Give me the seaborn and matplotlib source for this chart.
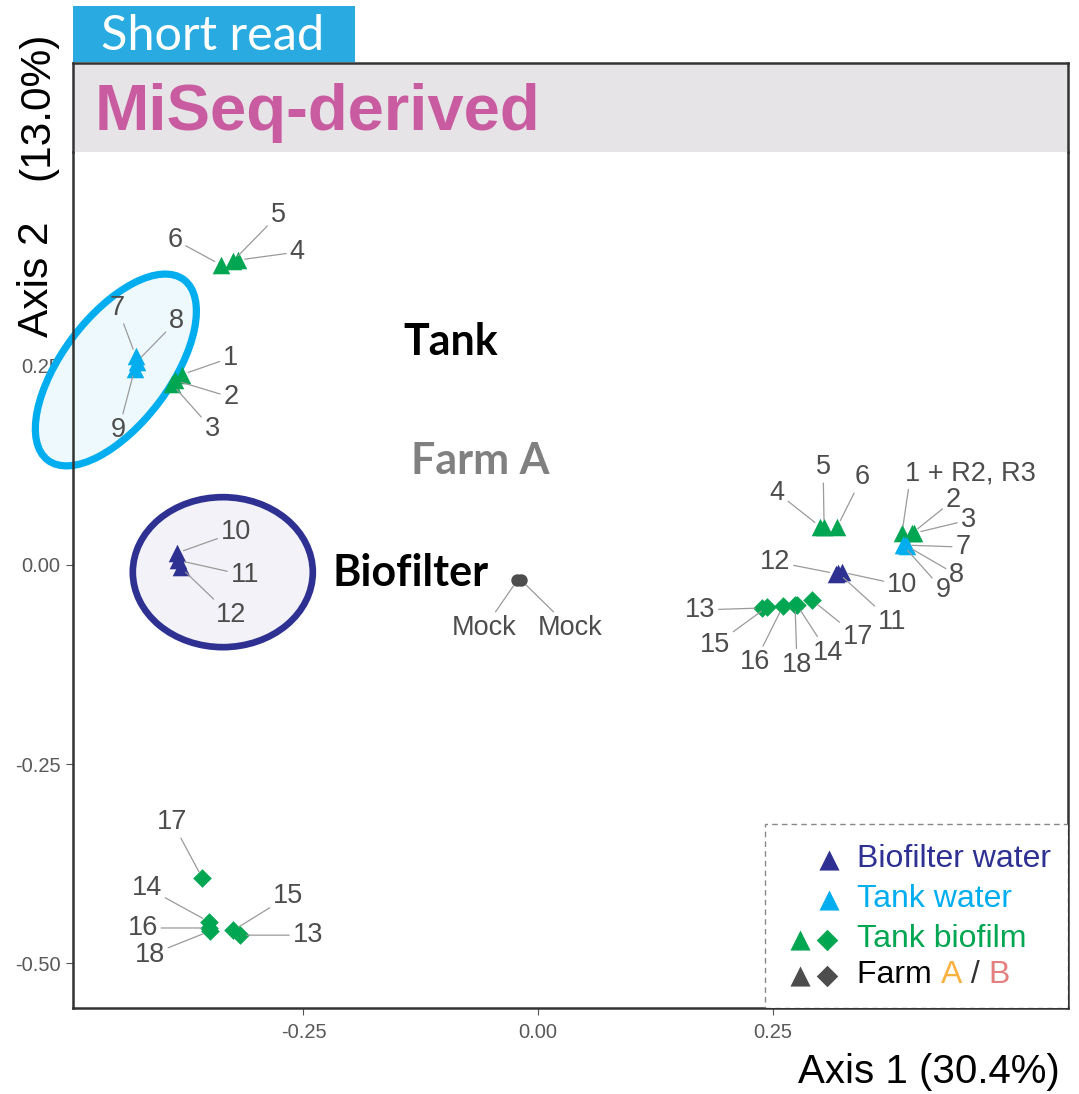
import numpy as np
import pandas as pd
import matplotlib
matplotlib.use("Agg")
import matplotlib.pyplot as plt
import matplotlib.transforms as mtransforms
from matplotlib.patches import Ellipse, Rectangle
import seaborn as sns

sns.set_theme(style="white")
plt.rcParams["font.family"] = ["Liberation Sans", "DejaVu Sans"]

# =========================
# data
# =========================
sample_ids = ["1", "2", "3", "4", "5", "6", "7", "8", "9",
              "10", "11", "12", "13", "14", "15", "16", "17", "18"]
sample_type = (["Tank biofilm"] * 6 + ["Tank water"] * 3 +
               ["Biofilter water"] * 3 + ["Tank biofilm"] * 6)
sample_shape = ["tri"] * 12 + ["dia"] * 6

farm_a_x = [-0.380, -0.387, -0.390, -0.320, -0.325, -0.338, -0.429, -0.428, -0.430,
            -0.385, -0.384, -0.381, -0.318, -0.351, -0.325, -0.351, -0.358, -0.350]
farm_a_y = [0.239, 0.232, 0.227, 0.383, 0.382, 0.377, 0.263, 0.255, 0.246,
            0.015, 0.006, -0.003, -0.465, -0.448, -0.459, -0.456, -0.393, -0.460]

farm_b_x = [0.388, 0.399, 0.401, 0.301, 0.305, 0.319, 0.391, 0.393, 0.389,
            0.324, 0.320, 0.318, 0.239, 0.276, 0.244, 0.261, 0.292, 0.274]
farm_b_y = [0.040, 0.040, 0.040, 0.048, 0.048, 0.048, 0.025, 0.024, 0.025,
            -0.009, -0.010, -0.011, -0.054, -0.050, -0.053, -0.052, -0.044, -0.050]
farm_b_ids = ["1 + R2, R3"] + sample_ids[1:]

mock_x = [-0.022, -0.018]
mock_y = [-0.019, -0.019]
mock_ids = ["Mock", "Mock"]

x_ticks = [-0.25, 0.00, 0.25]
y_ticks = [-0.50, -0.25, 0.00, 0.25]

palette = {"Biofilter water": "#2E3192", "Tank water": "#00AEEF",
           "Tank biofilm": "#00A651", "Mock": "#4D4D4D"}

# label offsets (pixels, y up) for the repel-style labels
offs_a = [(49, 17), (56, -17), (40, -45), (59, 8), (45, 46), (-46, 25),
          (-18, 48), (40, 41), (-16, -61), (59, 21), (67, -15), (50, -48),
          (68, 0), (-62, 34), (55, 34), (-66, 0), (-30, 56), (-60, -24)]
offs_b = [(3, 60), (41, 33), (54, 13), (-43, 34), (-1, 60), (25, 50),
          (58, -2), (50, -29), (40, -45), (60, -13), (54, -49), (-61, 12),
          (-62, -2), (31, -48), (-52, -38), (-28, -56), (46, -37), (2, -60)]
offs_mock = [(-33, -48), (49, -48)]

df = pd.concat([
    pd.DataFrame({"id": sample_ids, "x": farm_a_x, "y": farm_a_y,
                  "type": sample_type, "shape": sample_shape, "farm": "A"}),
    pd.DataFrame({"id": farm_b_ids, "x": farm_b_x, "y": farm_b_y,
                  "type": sample_type, "shape": sample_shape, "farm": "B"}),
], ignore_index=True)
mock = pd.DataFrame({"id": mock_ids, "x": mock_x, "y": mock_y, "type": "Mock"})

# =========================
# figure / axes
# =========================
W, H = 1079, 1094
fig = plt.figure(figsize=(W / 100, H / 100), dpi=100)
L, R, B, T, S = 73, 1068, 1008, 152, 63
ax = fig.add_axes([L / W, 1 - B / H, (R - L) / W, (B - T) / H])
strip = fig.add_axes([L / W, 1 - T / H, (R - L) / W, (T - S) / H])

ax.set_xlim(-0.4957, 0.5650)
ax.set_ylim(-0.5565, 0.5188)
ax.set_axisbelow(True)

# clusters highlighted with ellipses (size in inches, centre in data units)
def add_ellipse(cx, cy, w, h, ang, fc, ec, lw):
    tr = fig.dpi_scale_trans + mtransforms.ScaledTranslation(cx, cy, ax.transData)
    ax.add_patch(Ellipse((0, 0), w, h, angle=ang, transform=tr, facecolor=fc,
                         edgecolor=ec, lw=lw, clip_on=False, zorder=1))

add_ellipse(-0.450, 0.245, 2.26, 1.08, 53, "#EEF9FD", "#00AEEF", 5.2)
add_ellipse(-0.336, -0.009, 1.80, 1.50, 0, "#F2F2F8", "#2E3192", 4.8)

# points
for shp, mk, sz in [("tri", "^", 160), ("dia", "D", 90)]:
    for tp in ["Tank biofilm", "Biofilter water", "Tank water"]:
        sub = df[(df["shape"] == shp) & (df["type"] == tp)]
        if len(sub) == 0:
            continue
        sns.scatterplot(data=sub, x="x", y="y", color=palette[tp], marker=mk,
                        s=sz, linewidth=0, legend=False, ax=ax, zorder=3)
sns.scatterplot(data=mock, x="x", y="y", color=palette["Mock"], marker="o",
                s=80, linewidth=0, legend=False, ax=ax, zorder=3)

# labels with leader lines
lab_kw = dict(textcoords="offset pixels", ha="center", va="center",
              fontsize=19.5, color="#4D4D4D", zorder=4)
offsets = offs_a + offs_b
for i, row in df.iterrows():
    ap = dict(arrowstyle="-", color="#9A9A9A", lw=0.9, shrinkA=0, shrinkB=5)
    kw = dict(lab_kw)
    if row["id"].startswith("1 +"):
        kw["ha"] = "left"
        ap["relpos"] = (0.03, 0.0)
    ax.annotate(row["id"], xy=(row["x"], row["y"]), xytext=offsets[i],
                arrowprops=ap, **kw)
for i, row in mock.iterrows():
    ax.annotate(row["id"], xy=(row["x"], row["y"]), xytext=offs_mock[i],
                arrowprops=dict(arrowstyle="-", color="#9A9A9A", lw=0.9,
                                shrinkA=0, shrinkB=5), **lab_kw)

# group annotations
for txt, px, py, col in [("Tank", 451, 342, "black"), ("Farm A", 480, 461, "#808080"),
                         ("Biofilter", 411, 573, "black")]:
    fig.text(px / W, 1 - py / H, txt, ha="center", va="center", fontsize=31,
             fontweight="bold", color=col, family=["Lato", "DejaVu Sans"])

# axes styling
ax.set_xticks(x_ticks)
ax.set_xticklabels([f"{v:.2f}" for v in x_ticks])
ax.set_yticks(y_ticks)
ax.set_yticklabels([f"{v:.2f}" for v in y_ticks])
ax.tick_params(axis="both", bottom=True, left=True, length=5, width=0.8,
               color="#555555", labelcolor="#595959", labelsize=14.5, pad=4)
ax.tick_params(axis="x", pad=6)
ax.set_xlabel("")
ax.set_ylabel("")
for sp in ["left", "bottom", "right"]:
    ax.spines[sp].set_visible(True)
    ax.spines[sp].set_color("#333333")
    ax.spines[sp].set_linewidth(1.8)
ax.spines["top"].set_visible(False)

# facet strip
strip.set_facecolor("#E6E4E6")
strip.set_xticks([])
strip.set_yticks([])
for sp in ["left", "top", "right"]:
    strip.spines[sp].set_color("#333333")
    strip.spines[sp].set_linewidth(1.8)
strip.spines["bottom"].set_visible(False)
strip.text((95 - L) / (R - L), 0.44, "MiSeq-derived", transform=strip.transAxes,
           ha="left", va="center", fontsize=47, fontweight="bold", color="#C95BA0")

# "Short read" tag
fig.patches.append(Rectangle((L / W, 1 - 62 / H), (355 - L) / W, 56 / H,
                             transform=fig.transFigure, facecolor="#29ABE2",
                             edgecolor="none"))
fig.text(213 / W, 1 - 36 / H, "Short read", ha="center", va="center",
         fontsize=35, color="white", family=["Lato", "DejaVu Sans"])

# axis titles
fig.text(1060 / W, 1 - 1072 / H, "Axis 1 (30.4%)", ha="right", va="center",
         fontsize=29, color="black")
fig.text(37 / W, 1 - 279 / H, "Axis 2", rotation=90, ha="center", va="center",
         fontsize=30.5, color="black")
fig.text(37 / W, 1 - 106 / H, "(13.0%)", rotation=90, ha="center", va="center",
         fontsize=30.5, color="black")

# hand-made legend
ax.add_patch(Rectangle(((765 - L) / (R - L), 0), (R - 765) / (R - L), (B - 824) / (B - T),
                       transform=ax.transAxes, facecolor="white", edgecolor="#888888",
                       lw=1.0, ls=(0, (4, 3)), zorder=5))
def ax_xy(px, py):
    return (px - L) / (R - L), (B - py) / (B - T)

leg_rows = [("Biofilter water", "#2E3192", 859, [(829, "^")]),
            ("Tank water", "#00AEEF", 899, [(829, "^")]),
            ("Tank biofilm", "#00A651", 939, [(800, "^"), (827, "D")]),
            ("Farm ", "black", 975, [(800, "^"), (827, "D")])]
for txt, col, py, marks in leg_rows:
    mcol = col if txt != "Farm " else "#4D4D4D"
    for px, mk in marks:
        mx, my = ax_xy(px, py + 1)
        ax.scatter([mx], [my], transform=ax.transAxes, marker=mk, s=210 if mk == "^" else 120,
                   color=mcol, linewidth=0, zorder=6, clip_on=False)
    tx, ty = ax_xy(857, py)
    t = ax.text(tx, ty, txt, transform=ax.transAxes, ha="left", va="center",
                fontsize=23, color=col, zorder=6)
    if txt == "Farm ":
        prev = t
        for piece, pc in [("A", "#FBB040"), (" / ", "#333333"), ("B", "#E57F7F")]:
            prev = ax.annotate(piece, xy=(1, 0), xycoords=prev, ha="left", va="bottom",
                               fontsize=23, color=pc, zorder=6)

fig.savefig("out.png", dpi=100)
